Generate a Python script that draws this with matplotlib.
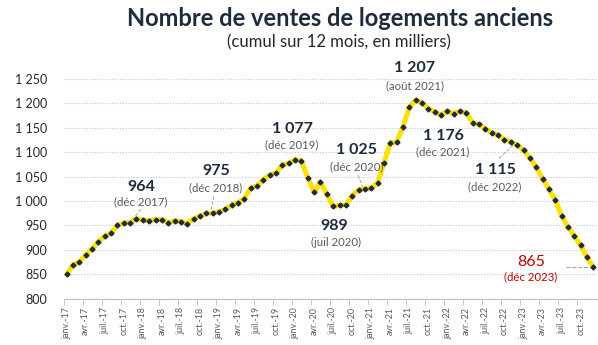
import matplotlib
matplotlib.use("Agg")
import matplotlib.pyplot as plt
import numpy as np

plt.rcParams['font.family'] = ['Lato', 'DejaVu Sans']

# cumul 12 mois des ventes, en milliers, janv. 2017 -> déc. 2023
ventes = [
    850, 869, 875, 890, 902, 917, 928, 935, 950, 955, 956, 964,      # 2017
    961, 960, 962, 962, 956, 959, 958, 954, 964, 969, 975, 975,      # 2018
    978, 983, 992, 997, 1005, 1027, 1031, 1044, 1053, 1058, 1074, 1077,  # 2019
    1085, 1082, 1048, 1018, 1039, 1014, 989, 991, 992, 1011, 1023, 1025,  # 2020
    1027, 1037, 1078, 1119, 1121, 1152, 1192, 1207, 1201, 1189, 1183, 1176,  # 2021
    1184, 1179, 1184, 1181, 1160, 1157, 1148, 1140, 1135, 1126, 1121, 1115,  # 2022
    1104, 1088, 1070, 1045, 1025, 1002, 970, 947, 929, 909, 885, 865,  # 2023
]
mois_labels = ["janv.", "avr.", "juil.", "oct."]
annees = ["17", "18", "19", "20", "21", "22", "23"]
tick_labels = [m + "-" + a for a in annees for m in mois_labels]

# annotations: (index du mois, valeur, texte date, position du texte en px)
annots = [
    (11, "964", "(déc 2017)", (141, 187), (141, 202)),
    (23, "975", "(déc 2018)", (216, 171), (216, 188)),
    (35, "1 077", "(déc 2019)", (292, 129), (292, 145)),
    (47, "1 025", "(déc 2020)", (357, 150), (357, 167)),
    (42, "989", "(juil 2020)", (334, 226), (336, 242)),
    (55, "1 207", "(août 2021)", (415, 68), (415, 85)),
    (59, "1 176", "(déc 2021)", (443, 136), (443, 152)),
    (71, "1 115", "(déc 2022)", (495, 170), (495, 187)),
]

W, H = 598, 345
fig = plt.figure(figsize=(W / 100, H / 100), dpi=100)
x0, x1 = 63.5, 596.5
ytop, ybot = 79, 298.7
ax = fig.add_axes([x0 / W, 1 - ybot / H, (x1 - x0) / W, (ybot - ytop) / H])

n = len(ventes)
x = np.arange(n)
ax.plot(x, ventes, color='#FFE100', lw=3.6, zorder=3, solid_capstyle='round')
ax.plot(x, ventes, ls='none', marker='D', ms=2.5, color='#1F2A3C', zorder=4)

ax.set_xlim(-0.5, n - 0.5)
ax.set_ylim(800, 1250)
ax.set_yticks(np.arange(800, 1251, 50))
ax.set_yticklabels([f"{v:,}".replace(",", " ") for v in range(800, 1251, 50)],
                   fontsize=9, color='#262626')
ax.yaxis.grid(True, ls=(0, (1, 1.5)), color='#C8C8C8', lw=0.8)
ax.set_axisbelow(True)

ax.set_xticks(np.arange(0, n, 3))
ax.set_xticklabels(tick_labels, rotation=90, fontsize=6.4, color='#595959')
ax.set_xticks(np.arange(0, n, 3) - 0.5, minor=True)
ax.tick_params(axis='x', which='major', length=0, pad=6)
ax.tick_params(axis='x', which='minor', length=4, color='#BFBFBF')
ax.tick_params(axis='y', length=0, pad=12)

for s in ['top', 'right', 'left']:
    ax.spines[s].set_visible(False)
ax.spines['bottom'].set_color('#BFBFBF')

def to_data(px, py):
    return (px - 66.7) / 6.345, 800 + (ybot - py) / 0.489

navy = '#1F2A3C'
grey = '#595959'
for idx, val, date, pv, pd in annots:
    xv, yv = to_data(*pv)
    xd, yd = to_data(*pd)
    ax.text(xv, yv, val, ha='center', va='center', fontsize=11.5,
            fontweight='bold', color=navy, clip_on=False)
    ax.text(xd, yd, date, ha='center', va='center', fontsize=8.2,
            color=grey, clip_on=False)

# traits de rappel
leaders = [((141, 209), 11), ((214, 196), 23), ((358, 175), 47), ((499, 158), 71)]
for (px, py), idx in leaders:
    lx, ly = to_data(px, py)
    ax.plot([lx, idx - 0.3], [ly, ventes[idx] + 3], ls='--', color='#A6A6A6', lw=0.7, zorder=2)

# dernier point
xr, yr = to_data(531, 262)
xr2, yr2 = to_data(531, 277)
ax.text(xr, yr, "865", ha='center', va='center', fontsize=11.5, color='#C00000')
ax.text(xr2, yr2, "(déc 2023)", ha='center', va='center', fontsize=8.2, color='#C00000')
lx, _ = to_data(566, 0)
ax.plot([lx, n - 1], [ventes[-1], ventes[-1]], ls='--', color='#A6A6A6', lw=0.8, zorder=2)

fig.text(340 / W, 1 - 18 / H, "Nombre de ventes de logements anciens", ha='center',
         va='center', fontsize=17, fontweight='bold', color=navy)
fig.text(339 / W, 1 - 42 / H, "(cumul sur 12 mois, en milliers)", ha='center',
         va='center', fontsize=12, color='#262626')

fig.savefig("out.png", dpi=100)
